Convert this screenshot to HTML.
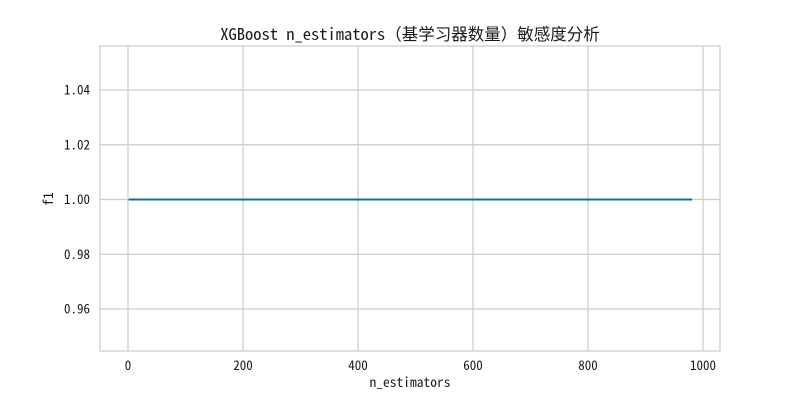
<!DOCTYPE html>
<html><head><meta charset="utf-8"><style>
body{margin:0;background:#fff;}
svg text{font-family:"WenQuanYi Zen Hei Mono","Noto Sans Mono CJK SC","WenQuanYi Zen Hei","Noto Sans CJK SC","DejaVu Sans Mono",monospace;fill:#1a1a1a;}
</style></head><body>
<svg id="chart" width="800" height="400" xmlns="http://www.w3.org/2000/svg">
<rect width="800" height="400" fill="#fff"/>
<text x="410" y="40" font-size="16.5" text-anchor="middle">XGBoost n_estimators（基学习器数量）敏感度分析</text>
<g id="grid"></g>
<g id="ticks"></g>
<rect x="100" y="46" width="620" height="305" fill="none" stroke="#cccccc" stroke-width="1.2"/>
<g id="series"></g>
<text x="410" y="387" font-size="13.5" text-anchor="middle">n_estimators</text>
<text x="0" y="0" font-size="13.5" text-anchor="middle" transform="translate(53,199) rotate(-90)">f1</text>
</svg>
<script>
const xValues = [1, 101, 201, 301, 401, 501, 601, 701, 801, 901, 981];
const f1Values = [1.0, 1.0, 1.0, 1.0, 1.0, 1.0, 1.0, 1.0, 1.0, 1.0, 1.0];
const xTicks = [0, 200, 400, 600, 800, 1000];
const yTicks = [0.96, 0.98, 1.00, 1.02, 1.04];
const yTickLabels = ["0.96", "0.98", "1.00", "1.02", "1.04"];

const NS = "http://www.w3.org/2000/svg";
function xs(v){ return 128 + v * 0.575; }
function ys(v){ return 199.5 - (v - 1.0) * 2737.5; }
const grid = document.getElementById('grid');
const ticks = document.getElementById('ticks');
function mk(tag, attrs, parent){ const e=document.createElementNS(NS,tag); for(const k in attrs) e.setAttribute(k,attrs[k]); parent.appendChild(e); return e; }

xTicks.forEach(t=>{
  const l = mk('line',{x1:xs(t),x2:xs(t),y1:46,y2:351,stroke:'#cccccc','stroke-width':1.2},grid);
  
  
  const tx = mk('text',{x:xs(t),y:370,'font-size':13,'text-anchor':'middle'},ticks);
  tx.textContent = String(t);
  
  
});
yTicks.forEach((t,i)=>{
  const l = mk('line',{x1:100,x2:720,y1:ys(t),y2:ys(t),stroke:'#cccccc','stroke-width':1.2},grid);
  
  
  const tx = mk('text',{x:90,y:ys(t)+4.5,'font-size':13,'text-anchor':'end'},ticks);
  tx.textContent = yTickLabels[i];
  
  
});
const pts = xValues.map((x,i)=>xs(x)+','+ys(f1Values[i])).join(' ');
const pl = mk('polyline',{points:pts,fill:'none',stroke:'#0e7196','stroke-width':2},document.getElementById('series'));


</script>
</body></html>
